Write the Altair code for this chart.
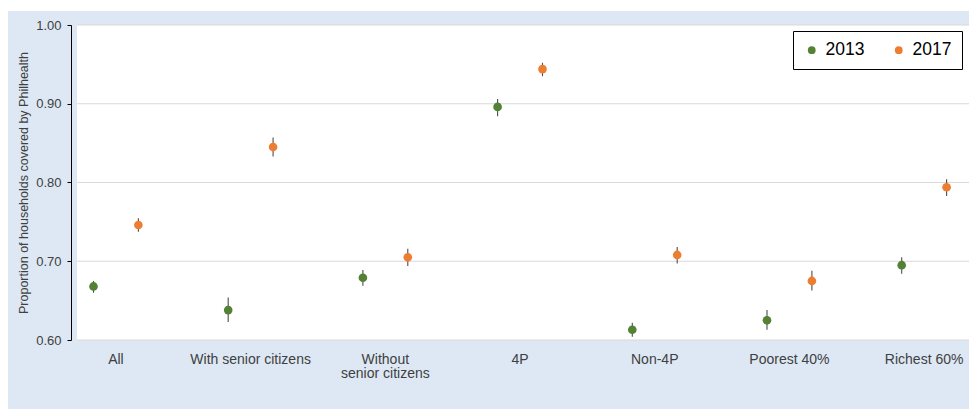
import altair as alt
import pandas as pd

# Household groups shown along the x axis
categories = [
    "All",
    "With senior citizens",
    "Without senior citizens",
    "4P",
    "Non-4P",
    "Poorest 40%",
    "Richest 60%",
]
years = ["2013", "2017"]

# Point estimates and confidence bounds of PhilHealth coverage
est_2013 = [0.668, 0.638, 0.679, 0.896, 0.613, 0.625, 0.695]
lo_2013 = [0.660, 0.623, 0.669, 0.884, 0.604, 0.613, 0.684]
hi_2013 = [0.675, 0.654, 0.689, 0.906, 0.622, 0.638, 0.705]

est_2017 = [0.746, 0.845, 0.705, 0.944, 0.708, 0.675, 0.794]
lo_2017 = [0.7375, 0.833, 0.694, 0.935, 0.697, 0.663, 0.783]
hi_2017 = [0.7545, 0.857, 0.716, 0.952, 0.718, 0.688, 0.804]

# Axis ticks and horizontal grid lines
y_ticks = [0.60, 0.65, 0.70, 0.75, 0.80, 0.85, 0.90, 0.95, 1.00]
grid_values = [0.60, 0.70, 0.80, 0.90, 1.00]

GREEN = "#548235"
ORANGE = "#ED7D31"
PANEL = "#dde8f4"
FONT = "Liberation Sans"

rows = []
for year, est, lo, hi in [
    ("2013", est_2013, lo_2013, hi_2013),
    ("2017", est_2017, lo_2017, hi_2017),
]:
    for cat, e, l, h in zip(categories, est, lo, hi):
        rows.append({"group": cat, "year": year, "est": e, "lo": l, "hi": h})
df = pd.DataFrame(rows)
grid_df = pd.DataFrame({"v": grid_values})

W, H = 892, 315

x_enc = alt.X(
    "group:N",
    sort=categories,
    scale=alt.Scale(paddingInner=0.5, paddingOuter=0.061, align=0.32),
    axis=alt.Axis(
        title=None,
        labelAngle=0,
        domain=False,
        ticks=False,
        grid=False,
        labelPadding=12,
        labelFontSize=14,
        labelColor="#404040",
        labelFont=FONT,
        labelLineHeight=14.5,
        labelExpr="datum.label == 'Without senior citizens' ? ['Without', 'senior citizens'] : datum.label",
    ),
)
xoff_enc = alt.XOffset(
    "year:N", sort=years, scale=alt.Scale(paddingInner=0.5, paddingOuter=0)
)
y_scale = alt.Scale(domain=[0.6, 1.0], nice=False, zero=False)

# White margin strips framing the light-blue panel
strip_data = alt.Data(values=[{"k": 1}])
top_strip = alt.Chart(strip_data).mark_rect(color="white").encode(
    x=alt.value(-77), x2=alt.value(W), y=alt.value(-25), y2=alt.value(-14)
)
left_strip = alt.Chart(strip_data).mark_rect(color="white").encode(
    x=alt.value(-77), x2=alt.value(-69), y=alt.value(-25), y2=alt.value(384)
)

grid = alt.Chart(grid_df).mark_rule(color="#d9d9d9", strokeWidth=1).encode(
    y=alt.Y("v:Q", scale=y_scale)
)

errbars = alt.Chart(df).mark_rule(color="#4d4d4d", strokeWidth=1.1).encode(
    x=x_enc,
    xOffset=xoff_enc,
    y=alt.Y("lo:Q", scale=y_scale),
    y2="hi:Q",
)

points = alt.Chart(df).mark_point(filled=True, size=75, opacity=1).encode(
    x=x_enc,
    xOffset=xoff_enc,
    y=alt.Y(
        "est:Q",
        scale=y_scale,
        axis=alt.Axis(
            title="Proportion of households covered by Philhealth",
            values=y_ticks,
            grid=False,
            offset=6,
            domainColor="black",
            tickColor="black",
            tickSize=4,
            labelPadding=6,
            labelFontSize=13,
            labelColor="#404040",
            labelFont=FONT,
            labelExpr="(round(datum.value * 100) % 10 == 0) ? format(datum.value, '.2f') : ''",
            titleFont=FONT,
            titleFontSize=12.5,
            titleFontWeight="normal",
            titleColor="#404040",
            titlePadding=5,
        ),
    ),
    color=alt.Color(
        "year:N",
        sort=years,
        scale=alt.Scale(domain=years, range=[GREEN, ORANGE]),
        legend=alt.Legend(
            title=None,
            orient="none",
            legendX=716,
            legendY=6,
            direction="horizontal",
            strokeColor="black",
            fillColor="white",
            padding=10,
            symbolType="circle",
            symbolSize=60,
            symbolStrokeWidth=0,
            labelFontSize=17.5,
            labelFont=FONT,
            labelColor="black",
            labelOffset=5,
            columnPadding=25,
        ),
    ),
)

chart = (
    alt.layer(top_strip, left_strip, grid, errbars, points)
    .properties(
        width=W,
        height=H,
        autosize=alt.AutoSizeParams(type="none"),
        padding={"left": 77, "top": 25, "right": 0, "bottom": 69},
        background=PANEL,
    )
    .configure_view(fill="white", stroke=None)
)

chart.save("out.html", embed_options={"renderer": "svg", "actions": False})
